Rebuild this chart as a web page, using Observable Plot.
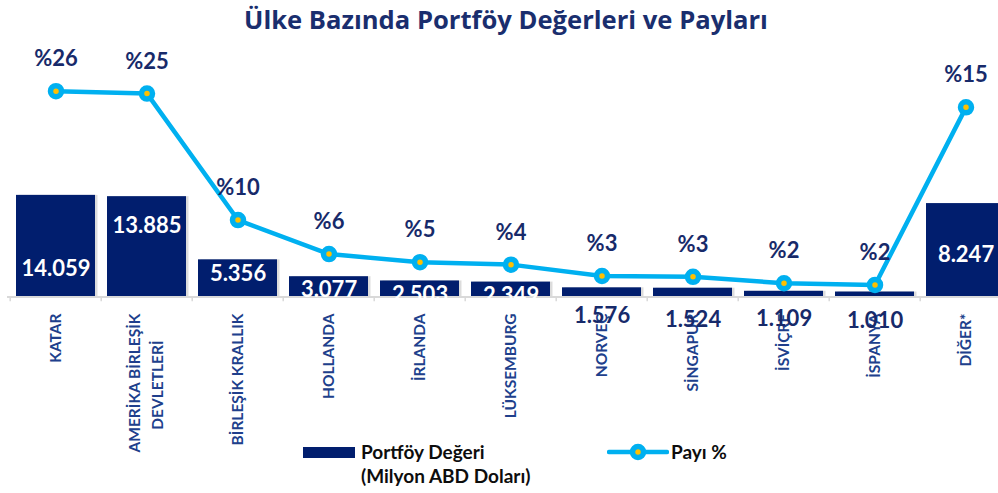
<!DOCTYPE html>
<html><head><meta charset="utf-8">
<script src="https://cdn.jsdelivr.net/npm/d3@7"></script>
<script src="https://cdn.jsdelivr.net/npm/@observablehq/plot@0.6"></script>
<style>
body{margin:0;width:998px;height:493px;overflow:hidden;background:#fff;font-family:Lato,"Open Sans",sans-serif;position:relative}
#title{position:absolute;left:0;top:0;width:1012px;text-align:center;height:42px;line-height:40px;font-family:"Open Sans",Lato,sans-serif;font-weight:700;font-size:25.6px;color:#1a2e6e;white-space:nowrap}
#chart{position:absolute;left:0;top:42px}
.leg{position:absolute;font-weight:700;font-size:19px;color:#0d0d0d;white-space:nowrap}
</style></head><body>
<div id="title">Ülke Bazında Portföy Değerleri ve Payları</div>
<div id="chart"></div>
<svg style="position:absolute;left:303px;top:447px" width="52" height="11"><rect width="52" height="11" fill="#011e6e"/></svg>
<div class="leg" style="left:361px;top:440px;line-height:24px">Portföy Değeri<br>(Milyon ABD Doları)</div>
<svg style="position:absolute;left:607px;top:443px" width="62" height="18"><line x1="2" x2="60" y1="9" y2="9" stroke="#00b0f0" stroke-width="4.5" stroke-linecap="round"/><circle cx="31" cy="9" r="5.5" fill="#ffc000" stroke="#00b0f0" stroke-width="5.5"/></svg>
<div class="leg" style="left:671px;top:440px;line-height:24px">Payı %</div>
<script>
const countries = ["KATAR","AMERİKA BİRLEŞİK DEVLETLERİ","BİRLEŞİK KRALLIK","HOLLANDA","İRLANDA","LÜKSEMBURG","NORVEÇ","SİNGAPUR","İSVİÇRE","İSPANYA","DİĞER*"];
const tickLine1 = ["KATAR","AMERİKA BİRLEŞİK","BİRLEŞİK KRALLIK","HOLLANDA","İRLANDA","LÜKSEMBURG","NORVEÇ","SİNGAPUR","İSVİÇRE","İSPANYA","DİĞER*"];
const tickLine2 = ["","DEVLETLERİ","","","","","","","","",""];
const portfoy = [14059,13885,5356,3077,2503,2349,1576,1524,1109,1010,12950];
const portfoyLabels = ["14.059","13.885","5.356","3.077","2.503","2.349","1.576","1.524","1.109","1.010","8.247"];
const pay = [25.7,25.4,9.8,5.6,4.6,4.3,2.9,2.8,2.0,1.8,23.7];
const payLabels = ["%26","%25","%10","%6","%5","%4","%3","%3","%2","%2","%15"];

// axes settings
const yMax = 34700;      // primary axis max (Milyon ABD Doları)
const payMax = 31.7;     // secondary axis max (%)
const axisCross = 330;   // horizontal axis crossing value
const labelDy = [73.7, 28.9, 13.7, 13.5, 13.5, 13.5, 27.7, 31.8, 27.2, 29, 51.7];

const rows = countries.map((c, i) => ({
  country: c, t1: tickLine1[i], t2: tickLine2[i],
  value: portfoy[i], vlabel: portfoyLabels[i],
  pay: pay[i], plabel: payLabels[i]
}));
const payY = d => d.pay / payMax * yMax;
const navy = "#172a6a", barCol = "#011e6e", axisText = "#203f8c";
const xr = [7, 1014.6];
const step = (xr[1] - xr[0]) / countries.length;
const tickFont = 15.5;

const chart = Plot.plot({
  width: 998, height: 415,
  marginLeft: 7, marginRight: 0, marginTop: 0, marginBottom: 158,
  x: {domain: countries, range: xr, paddingInner: 0.127, paddingOuter: 0.0635, axis: null},
  y: {domain: [0, yMax], axis: null},
  style: {fontFamily: "Lato, 'Open Sans', sans-serif", background: "transparent"},
  marks: [
    Plot.barY(rows, {x: "country", y1: axisCross, y2: "value", fill: "#9a9a9a", fillOpacity: 0.35, dx: 2.5}),
    Plot.barY(rows, {x: "country", y1: axisCross, y2: "value", fill: barCol}),
    Plot.ruleY([axisCross], {stroke: "#d9d9d9", strokeWidth: 2}),
    Plot.ruleX(countries, {x: d => d, dx: -step / 2, y1: axisCross, y2: axisCross - 650, stroke: "#d9d9d9", strokeWidth: 1.5}),
    Plot.text(rows.filter(d => !d.t2), {x: "country", text: "t1", frameAnchor: "bottom", rotate: -90, textAnchor: "end", lineAnchor: "middle", dy: 14, fill: axisText, fontSize: tickFont, fontWeight: "bold"}),
    Plot.text(rows.filter(d => d.t2), {x: "country", text: "t1", frameAnchor: "bottom", rotate: -90, textAnchor: "end", lineAnchor: "middle", dy: 14, dx: -11.5, fill: axisText, fontSize: tickFont, fontWeight: "bold"}),
    Plot.text(rows.filter(d => d.t2), {x: "country", text: "t2", frameAnchor: "bottom", rotate: -90, textAnchor: "end", lineAnchor: "middle", dy: 41, dx: 11.5, fill: axisText, fontSize: tickFont, fontWeight: "bold"}),
    ...rows.map((d, i) => Plot.text([d], {x: "country", y: "value", text: "vlabel", dy: labelDy[i], lineAnchor: "middle",
      fill: d.value < 1800 ? navy : "white", fontSize: 22, fontWeight: "bold"})),
    Plot.line(rows, {x: "country", y: payY, stroke: "#00b0f0", strokeWidth: 4.5}),
    Plot.dot(rows, {x: "country", y: payY, r: 5.5, fill: "#ffc000", stroke: "#00b0f0", strokeWidth: 5.5}),
    Plot.text(rows, {x: "country", y: payY, text: "plabel", dy: -32, lineAnchor: "middle", fill: navy, fontSize: 22, fontWeight: "bold"})
  ]
});
document.getElementById("chart").appendChild(chart);
</script>
</body></html>
